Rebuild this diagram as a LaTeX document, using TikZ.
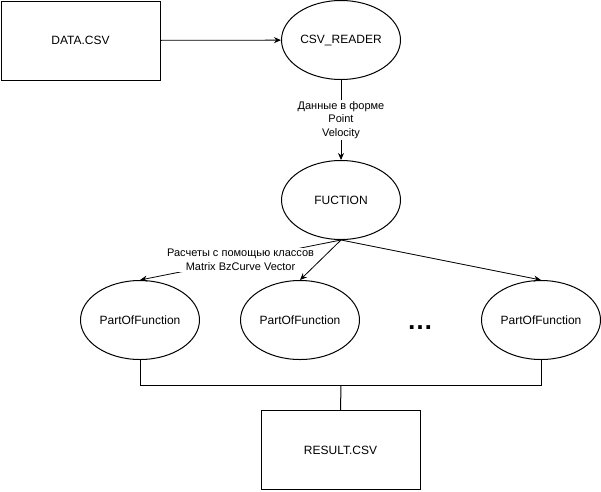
\documentclass[tikz,border=0pt]{standalone}
\usepackage{fontspec}
\setmainfont{Liberation Sans}
\usetikzlibrary{shapes.geometric,arrows.meta}
\begin{document}
\begin{tikzpicture}[x=1pt,y=-1pt,
  every node/.style={font=\fontsize{12}{14}\selectfont},
  boxnode/.style={draw,line width=1pt,minimum width=159pt,minimum height=79pt,inner sep=0pt},
  ellnode/.style={draw,ellipse,line width=1pt,minimum width=119pt,minimum height=79pt,inner sep=0pt},
  conn/.style={line width=0.8pt},
  arr/.style={conn,-{Stealth[length=7pt,width=6pt]}},
  lbl/.style={fill=white,align=center,inner sep=1pt,font=\fontsize{11}{13.5}\selectfont}]
\useasboundingbox (0,0) rectangle (601,491);
\node[boxnode] (data) at (80.5,40.5) {DATA.CSV};
\node[ellnode] (reader) at (341,40) {CSV\_READER};
\node[ellnode] (fuction) at (341,200) {FUCTION};
\node[ellnode] (p1) at (140,320) {PartOfFunction};
\node[ellnode] (p2) at (300,320) {PartOfFunction};
\node[ellnode] (p3) at (541,320) {PartOfFunction};
\node (dots) at (420,328) {\fontsize{26}{26}\selectfont\bfseries …};
\node[boxnode] (result) at (340.5,450) {RESULT.CSV};
\coordinate (j) at (341,385);
\draw[arr] (data) -- (reader);
\draw[arr] (reader) -- node[lbl] {Данные в форме\\Point\\Velocity} (fuction);
\draw[arr] (fuction.south) -- node[lbl] {Расчеты с помощью классов\\Matrix BzCurve Vector} (p1.north);
\draw[arr] (fuction.south) -- (p2.north);
\draw[arr] (fuction.south) -- (p3.north);
\draw[line width=1pt] (p1.south) |- (j) -| (p3.south);
\draw[line width=1pt] (j) -- (result.north);
\end{tikzpicture}
\end{document}
